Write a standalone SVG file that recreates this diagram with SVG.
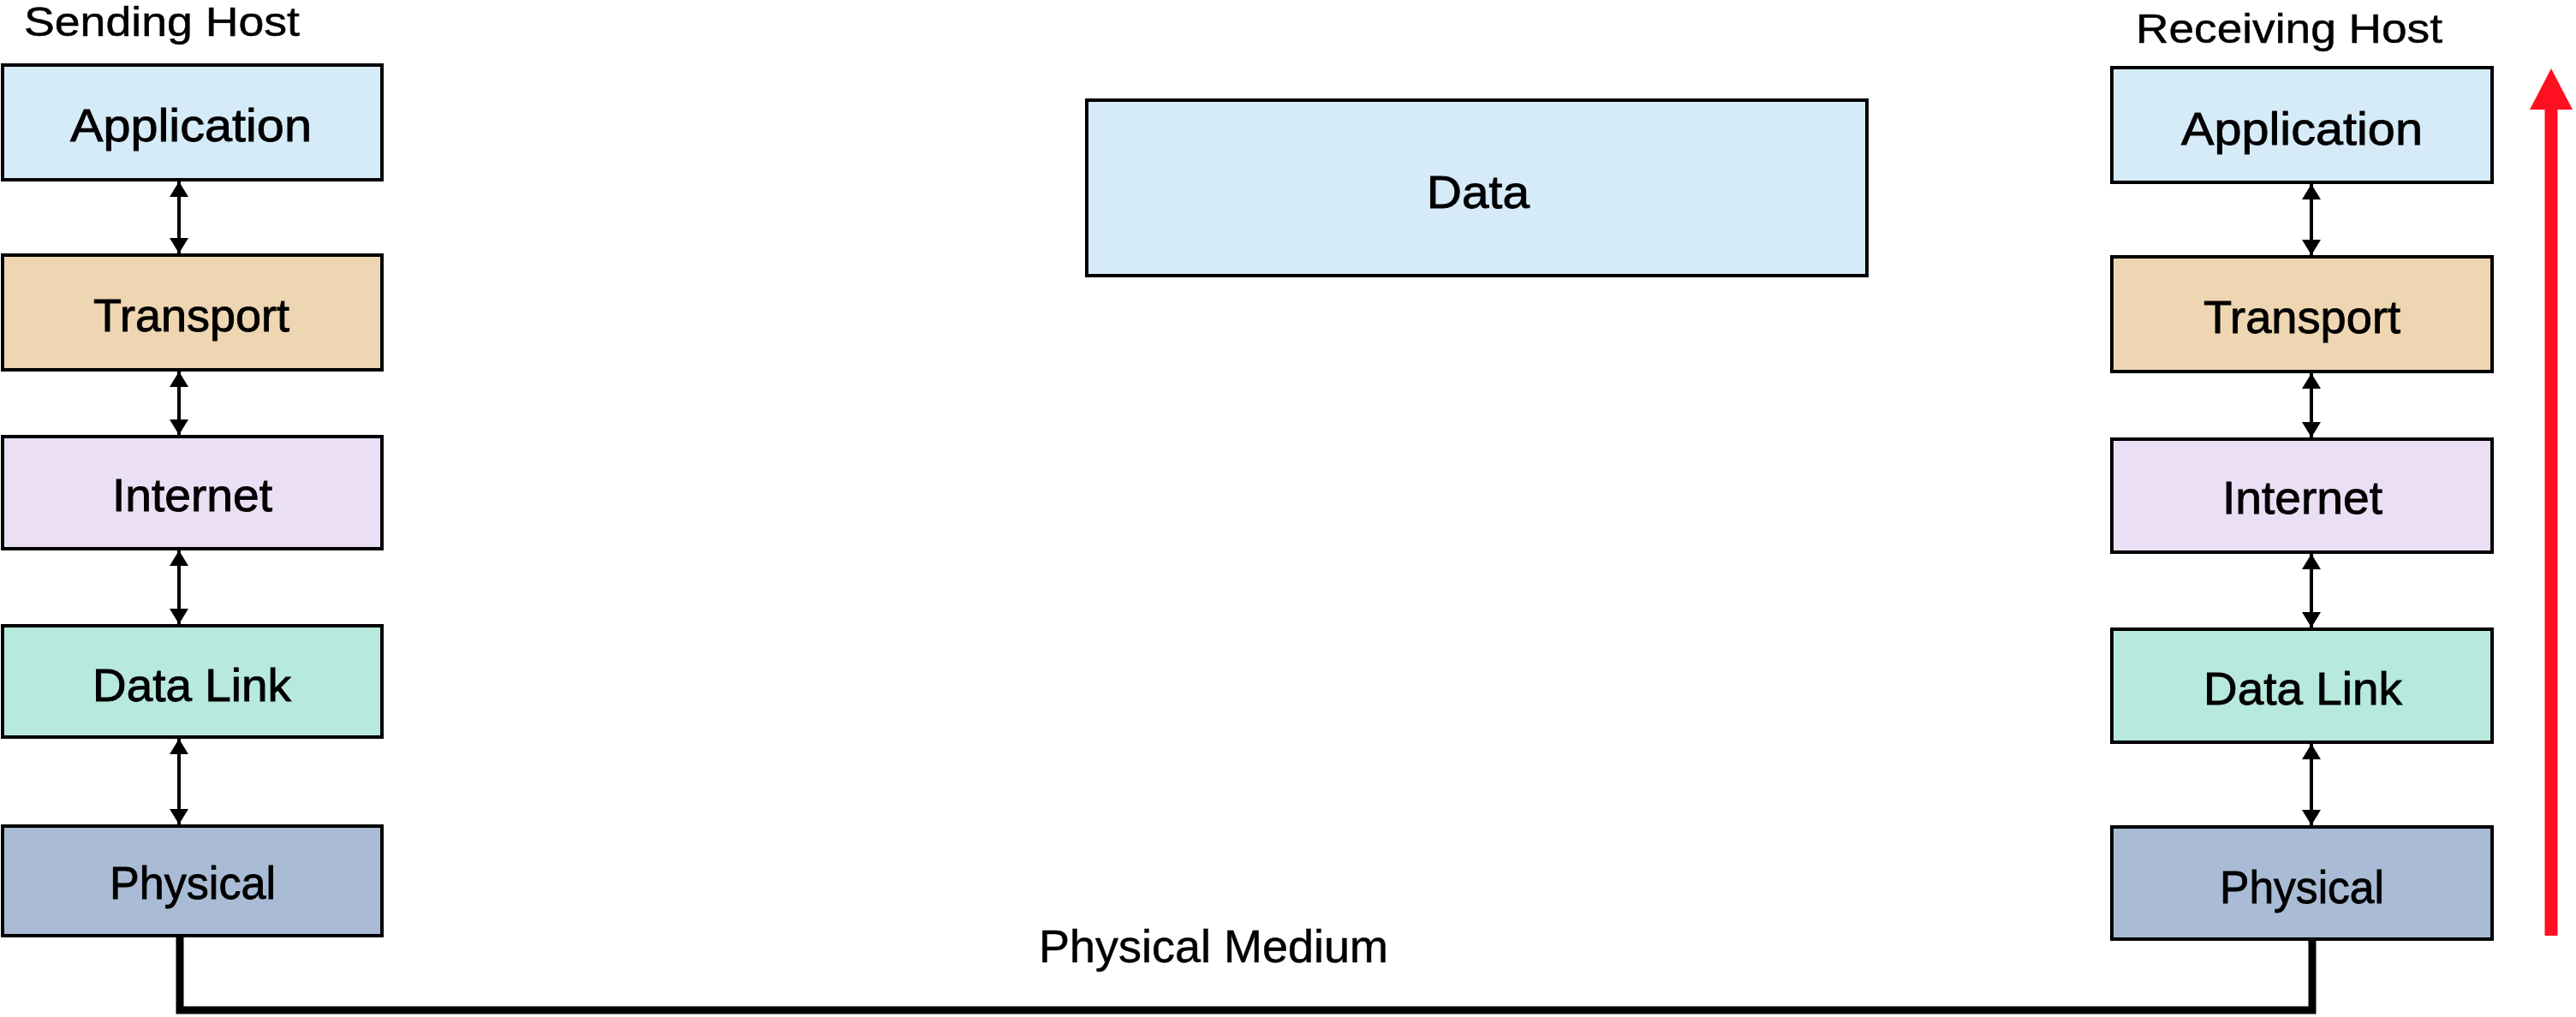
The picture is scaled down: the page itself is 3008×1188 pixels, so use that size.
<svg xmlns="http://www.w3.org/2000/svg" width="3008" height="1188" viewBox="0 0 3008 1188">
<defs>
<style>
.box{stroke:#000;stroke-width:4}
.app{fill:#D6EBF8}.tra{fill:#EED6B2}.int{fill:#EADFF4}.dl{fill:#B7E9DE}.phy{fill:#AABCD5}
.lbl{font-family:"Liberation Sans",Arial,sans-serif;font-size:54px;fill:#000;stroke:#000;stroke-width:0.9}
.hdr{font-family:"Liberation Sans",Arial,sans-serif;font-size:48px;fill:#000;stroke:#000;stroke-width:0.5}
.arr{stroke:#000;stroke-width:4;fill:none;marker-start:url(#ah);marker-end:url(#ah)}
</style>
<marker id="ah" viewBox="0 0 18 22" refX="18" refY="11" markerWidth="18" markerHeight="22" markerUnits="userSpaceOnUse" orient="auto-start-reverse">
<path d="M0,0 L18,11 L0,22 z" fill="#000"/>
</marker>
</defs>
<rect width="3008" height="1188" fill="#fff"/>
<text class="hdr" x="28" y="42" textLength="322" lengthAdjust="spacingAndGlyphs">Sending Host</text>
<text class="hdr" x="2494" y="50" textLength="358" lengthAdjust="spacingAndGlyphs">Receiving Host</text>

<g id="s-app"><rect class="box app" x="3" y="76" width="443" height="134"/><text class="lbl" x="82" y="165" textLength="282" lengthAdjust="spacingAndGlyphs">Application</text></g>
<g id="s-tra"><rect class="box tra" x="3" y="298" width="443" height="134"/><text class="lbl" x="109" y="387" textLength="229" lengthAdjust="spacingAndGlyphs">Transport</text></g>
<g id="s-int"><rect class="box int" x="3" y="510" width="443" height="131"/><text class="lbl" x="131" y="597" textLength="187" lengthAdjust="spacingAndGlyphs">Internet</text></g>
<g id="s-dl"><rect class="box dl" x="3" y="731" width="443" height="130"/><text class="lbl" x="108" y="819" textLength="232" lengthAdjust="spacingAndGlyphs">Data Link</text></g>
<g id="s-phy"><rect class="box phy" x="3" y="965" width="443" height="128"/><text class="lbl" x="128" y="1050" textLength="194" lengthAdjust="spacingAndGlyphs">Physical</text></g>

<g id="data"><rect class="box app" x="1269" y="117" width="911" height="205"/><text class="lbl" x="1666" y="243" textLength="120" lengthAdjust="spacingAndGlyphs">Data</text></g>

<g id="r-app"><rect class="box app" x="2466" y="79" width="444" height="134"/><text class="lbl" x="2547" y="169" textLength="282" lengthAdjust="spacingAndGlyphs">Application</text></g>
<g id="r-tra"><rect class="box tra" x="2466" y="300" width="444" height="134"/><text class="lbl" x="2573" y="389" textLength="230" lengthAdjust="spacingAndGlyphs">Transport</text></g>
<g id="r-int"><rect class="box int" x="2466" y="513" width="444" height="132"/><text class="lbl" x="2595" y="600" textLength="187" lengthAdjust="spacingAndGlyphs">Internet</text></g>
<g id="r-dl"><rect class="box dl" x="2466" y="735" width="444" height="132"/><text class="lbl" x="2573" y="823" textLength="232" lengthAdjust="spacingAndGlyphs">Data Link</text></g>
<g id="r-phy"><rect class="box phy" x="2466" y="966" width="444" height="131"/><text class="lbl" x="2592" y="1055" textLength="192" lengthAdjust="spacingAndGlyphs">Physical</text></g>

<text class="hdr" x="1213" y="1124" style="font-size:54px" textLength="408" lengthAdjust="spacingAndGlyphs">Physical Medium</text>

<g id="connectors">
<line class="arr" x1="209" y1="212" x2="209" y2="296"/>
<line class="arr" x1="209" y1="434" x2="209" y2="508"/>
<line class="arr" x1="209" y1="643" x2="209" y2="729"/>
<line class="arr" x1="209" y1="863" x2="209" y2="963"/>
<line class="arr" x1="2699" y1="215" x2="2699" y2="298"/>
<line class="arr" x1="2699" y1="436" x2="2699" y2="511"/>
<line class="arr" x1="2699" y1="647" x2="2699" y2="733"/>
<line class="arr" x1="2699" y1="869" x2="2699" y2="964"/>
<path d="M210,1095 V1180 H2700 V1099" fill="none" stroke="#000" stroke-width="9"/>
<line x1="2979" y1="1093" x2="2979" y2="120" stroke="#FF1020" stroke-width="15"/>
<path d="M2979,80 L3004,128 L2954,128 z" fill="#FF1020"/>
</g>
</svg>
